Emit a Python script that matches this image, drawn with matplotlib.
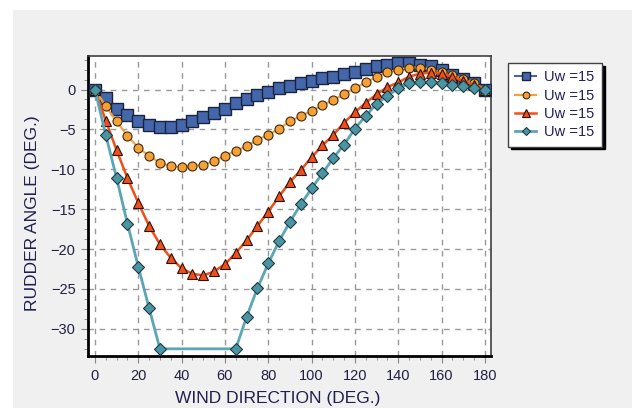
import numpy as np
import matplotlib.pyplot as plt
from matplotlib.patches import Rectangle
from matplotlib.ticker import MultipleLocator

plt.rcParams['font.family'] = ['Liberation Sans', 'DejaVu Sans']

# wind direction (deg)
x_full = [0, 5, 10, 15, 20, 25, 30, 35, 40, 45, 50, 55, 60, 65, 70, 75, 80, 85, 90,
          95, 100, 105, 110, 115, 120, 125, 130, 135, 140, 145, 150, 155, 160, 165,
          170, 175, 180]
x_teal = [0, 5, 10, 15, 20, 25, 30, 65, 70, 75, 80, 85, 90, 95, 100, 105, 110, 115,
          120, 125, 130, 135, 140, 145, 150, 155, 160, 165, 170, 175, 180]

# rudder angle (deg)
rud_blue = [0, -1.1, -2.4, -3.2, -4.0, -4.5, -4.7, -4.7, -4.4, -3.9, -3.4, -3.0, -2.4,
            -1.7, -1.2, -0.7, -0.3, 0.15, 0.45, 0.85, 1.1, 1.4, 1.6, 1.9, 2.2, 2.55,
            2.9, 3.1, 3.3, 3.3, 3.1, 2.9, 2.5, 1.8, 1.3, 0.8, 0]
rud_orange = [0, -2.1, -4.0, -5.8, -7.3, -8.3, -9.2, -9.6, -9.7, -9.6, -9.4, -9.0, -8.3,
              -7.7, -7.1, -6.3, -5.7, -4.9, -4.0, -3.3, -2.7, -2.0, -1.3, -0.6, 0.15,
              0.9, 1.6, 2.15, 2.5, 2.75, 2.75, 2.5, 2.15, 1.8, 1.3, 0.8, 0]
rud_red = [0, -3.9, -7.6, -11.1, -14.2, -17.1, -19.4, -21.1, -22.4, -23.1, -23.3, -22.8,
           -21.9, -20.5, -18.9, -17.1, -15.3, -13.4, -11.6, -10.1, -8.5, -7.0, -5.7,
           -4.15, -2.85, -1.65, -0.6, 0.3, 0.9, 1.6, 2.0, 2.1, 2.0, 1.6, 1.1, 0.6, 0]
rud_teal = [0, -5.7, -11.1, -16.8, -22.2, -27.4, -32.5, -32.5, -28.5, -24.9, -21.8,
            -19.0, -16.6, -14.4, -12.4, -10.5, -8.6, -6.9, -4.9, -3.3, -1.8, -0.8, 0.15,
            0.8, 0.9, 0.9, 0.8, 0.55, 0.45, 0.15, 0]

labels = ['Uw =15', 'Uw =15', 'Uw =15', 'Uw =15']

fig = plt.figure(figsize=(6.32, 4.08), dpi=100, facecolor='white')
# gray panel behind the chart
fig.patches.append(Rectangle((13/632, 0), 1, 1 - 10/408, transform=fig.transFigure,
                             facecolor='#f0f0f0', edgecolor='none', zorder=-10))
ax = fig.add_axes([88/632, 1 - 356/408, (491 - 88)/632, (356 - 56)/408])
ax.set_facecolor('white')

ax.plot(x_full, rud_blue, '-s', color='#4467ac', mfc='#4467ac', mec='#1a2440',
        ms=8, lw=1.5, label=labels[0], zorder=3)
ax.plot(x_full, rud_orange, '-o', color='#f7a035', mfc='#f7a035', mec='#3a2a10',
        ms=6.5, lw=1.5, mew=0.8, label=labels[1], zorder=4)
ax.plot(x_full, rud_red, '-^', color='#f05018', mfc='#f05018', mec='#2a1008',
        ms=7.5, lw=1.8, mew=0.8, label=labels[2], zorder=5)
ax.plot(x_teal, rud_teal, '-D', color='#5aa6b6', mfc='#4a94a4', mec='#1e3a40',
        ms=6, lw=2, mew=0.8, label=labels[3], zorder=6)

ax.set_xlim(-3.2, 182.8)
ax.set_ylim(-33.4, 4.2)
ax.xaxis.set_major_locator(MultipleLocator(20))
ax.xaxis.set_minor_locator(MultipleLocator(5))
ax.yaxis.set_major_locator(MultipleLocator(5))
ax.yaxis.set_minor_locator(MultipleLocator(1.25))
ax.tick_params(which='both', direction='out', color='#888888', labelsize=10.5,
               labelcolor='#202040')
ax.tick_params(which='major', length=5, pad=4)
ax.tick_params(which='minor', length=3)
ax.grid(True, which='major', ls=(0, (4, 4)), color='#999999', lw=1)

for s in ['left', 'bottom']:
    ax.spines[s].set_linewidth(2)
    ax.spines[s].set_color('black')
for s in ['top', 'right']:
    ax.spines[s].set_linewidth(1.2)
    ax.spines[s].set_color('#404040')

ax.set_xlabel('WIND DIRECTION (DEG.)', fontsize=12.5, color='#202050')
ax.set_ylabel('RUDDER ANGLE (DEG.)', fontsize=12.5, color='#202050')
ax.xaxis.set_label_coords(0.47, -0.115)
ax.yaxis.set_label_coords(-0.118, 0.475)

leg = ax.legend(loc='upper left', bbox_to_anchor=(508/632, 1 - 63/408),
                bbox_transform=fig.transFigure, fontsize=10.5, frameon=True,
                fancybox=False, shadow={'color': 'black', 'alpha': 1},
                edgecolor='#404040', handlelength=1.4, borderaxespad=0,
                labelspacing=0.3, handletextpad=0.6, borderpad=0.5,
                markerscale=0.75)
leg.get_frame().set_linewidth(1)
for t in leg.get_texts():
    t.set_color('#202060')

fig.savefig('out.png', dpi=100, facecolor=fig.get_facecolor())
